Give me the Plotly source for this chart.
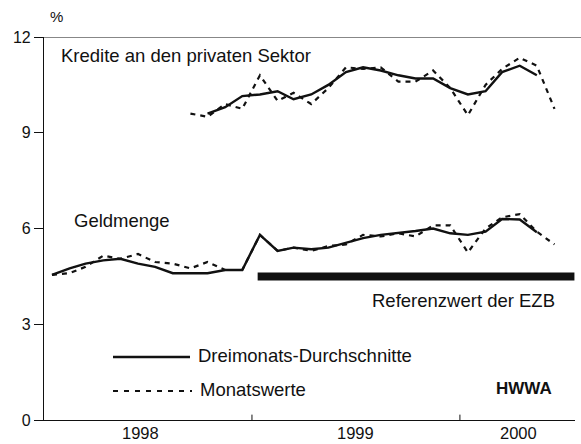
import plotly.graph_objects as go

# Monthly categories (mid-month), Jan 1998 .. Jun 2000
months = [f"{1998 + i // 12}-{i % 12 + 1:02d}-15" for i in range(30)]

# Geldmenge (M3), % yoy
geld_avg = [4.55, 4.75, 4.9, 5.0, 5.05, 4.9, 4.8, 4.6, 4.6, 4.6, 4.7, 4.7,
            5.8, 5.3, 5.4, 5.35, 5.4, 5.55, 5.7, 5.8, 5.85, 5.92, 6.0, 5.85,
            5.8, 5.9, 6.3, 6.28, 5.88, None]
geld_month = [4.55, 4.6, 4.8, 5.15, 5.05, 5.2, 4.95, 4.9, 4.75, 4.95, 4.7, 4.7,
              5.8, 5.3, 5.4, 5.3, 5.45, 5.5, 5.8, 5.75, 5.85, 5.75, 6.1, 6.1,
              5.25, 6.0, 6.35, 6.45, 5.9, 5.5]

# Kredite an den privaten Sektor, % yoy
kred_avg = [None] * 9 + [9.6, 9.8, 10.15, 10.2, 10.3, 10.05, 10.2, 10.5, 10.9,
                         11.05, 10.95, 10.8, 10.7, 10.7, 10.4, 10.2, 10.3, 10.9,
                         11.1, 10.8, None]
kred_month = [None] * 8 + [9.6, 9.5, 9.9, 9.75, 10.8, 10.0, 10.25, 9.9, 10.4, 11.05,
                           11.0, 11.05, 10.6, 10.6, 10.95, 10.4, 9.55, 10.5, 11.0,
                           11.35, 11.1, 9.75]

# Reference value of the ECB
ref_value = 4.5
ref_dates = ["1999-01-11", "2000-07-20"]

year_labels = ["1998", "1999", "2000"]
year_label_pos = ["1998-06-19", "1999-07-01", "2000-04-12"]
year_bounds = ["1999-01-01", "2000-01-01"]

FONT = "Arial, Liberation Sans, Helvetica, sans-serif"
BLACK = "#111111"
LBL = 18.5

fig = go.Figure()

for series, dash, w in [(geld_month, "5px,5px", 2.2), (kred_month, "5px,5px", 2.2),
                        (geld_avg, "solid", 2.4), (kred_avg, "solid", 2.4)]:
    fig.add_trace(go.Scatter(x=months, y=series, mode="lines",
                             line=dict(color=BLACK, width=w, dash=dash),
                             connectgaps=False, showlegend=False, hoverinfo="skip"))

fig.add_trace(go.Scatter(x=ref_dates, y=[ref_value, ref_value], mode="lines",
                         line=dict(color=BLACK, width=8),
                         showlegend=False, hoverinfo="skip"))

# year boundary ticks
for d in year_bounds:
    fig.add_shape(type="line", xref="x", yref="paper", x0=d, x1=d, y0=0, y1=0.014,
                  line=dict(color=BLACK, width=1))

# top line at 12
fig.add_shape(type="line", xref="paper", yref="y", x0=-0.017, x1=1.02, y0=12, y1=12,
              line=dict(color=BLACK, width=1.2))

# legend (drawn)
def px(x):
    return (x - 44) / 531

def py(y):
    return (420 - y) / 383

fig.add_shape(type="line", xref="paper", yref="paper", x0=px(113), x1=px(190),
              y0=py(357), y1=py(357), line=dict(color=BLACK, width=2.4))
fig.add_shape(type="line", xref="paper", yref="paper", x0=px(113), x1=px(192),
              y0=py(391), y1=py(391), line=dict(color=BLACK, width=2.2, dash="5px,6px"))

annots = [
    dict(text="Kredite an den privaten Sektor", x=px(59), y=py(55), xanchor="left", size=LBL),
    dict(text="Geldmenge", x=px(72), y=py(221), xanchor="left", size=LBL),
    dict(text="Referenzwert der EZB", x=px(557), y=py(300), xanchor="right", size=LBL),
    dict(text="Dreimonats-Durchschnitte", x=px(196), y=py(355), xanchor="left", size=LBL),
    dict(text="Monatswerte", x=px(198), y=py(389), xanchor="left", size=LBL),
    dict(text="<b>HWWA</b>", x=px(554), y=py(388), xanchor="right", size=17),
    dict(text="%", x=px(56), y=py(17), xanchor="center", size=15),
]
for a in annots:
    size = a.pop("size")
    fig.add_annotation(xref="paper", yref="paper", showarrow=False, yanchor="middle",
                       font=dict(family=FONT, size=size, color=BLACK), **a)

for lab, pos in zip(year_labels, year_label_pos):
    fig.add_annotation(xref="x", yref="paper", x=pos, y=py(433), text=lab,
                       showarrow=False, yanchor="middle", borderpad=0,
                       font=dict(family=FONT, size=16.5, color=BLACK))

fig.update_layout(
    width=581, height=444,
    margin=dict(l=44, r=6, t=37, b=24),
    paper_bgcolor="white", plot_bgcolor="white",
    font=dict(family=FONT, size=15, color=BLACK),
    xaxis=dict(type="date", range=["1998-01-01", "2000-07-21"], showgrid=False,
               zeroline=False, showticklabels=False, ticks="",
               showline=True, linecolor=BLACK, linewidth=1.2),
    yaxis=dict(range=[0, 12], tickvals=[0, 3, 6, 9, 12], showgrid=False,
               zeroline=False, ticks="outside", ticklen=9, tickcolor=BLACK,
               showline=True, linecolor=BLACK, linewidth=1.2,
               tickfont=dict(family=FONT, size=16, color=BLACK)),
)

fig.write_html("out.html", config={"displayModeBar": False},
               post_script="document.body.style.margin='0';document.body.style.overflow='hidden';")
